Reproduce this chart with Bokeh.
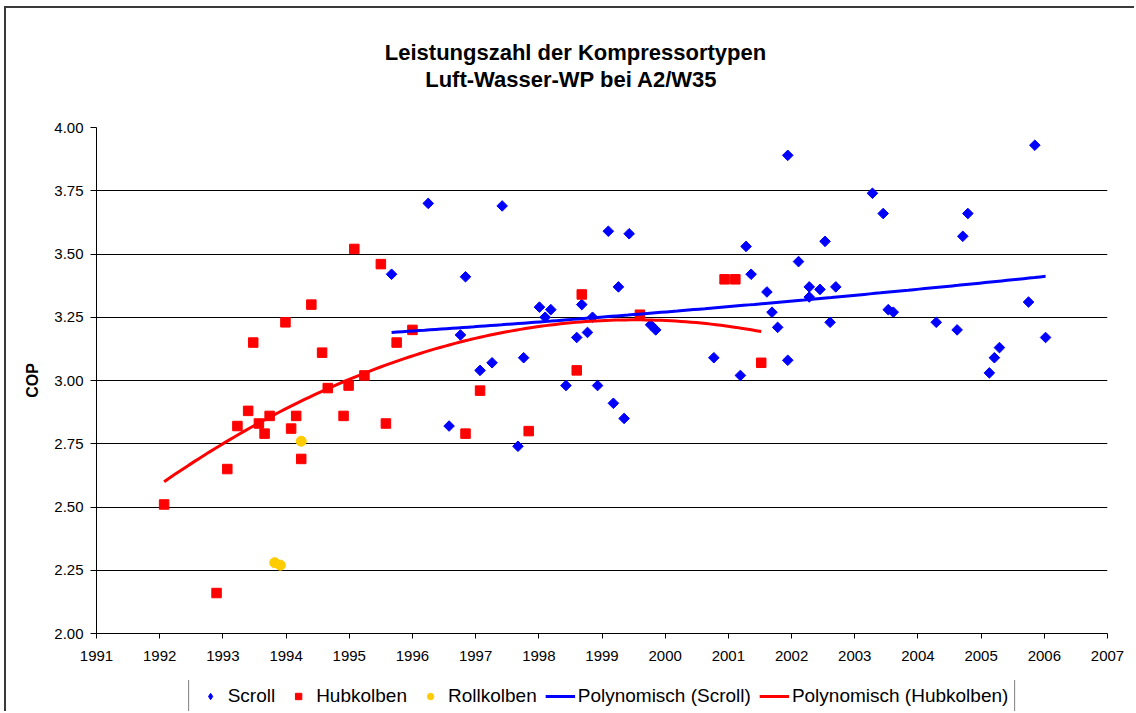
import numpy as np
from bokeh.plotting import figure
from bokeh.layouts import column
from bokeh.models import (Range1d, FixedTicker, NumeralTickFormatter, Legend, LegendItem, Label)
from bokeh.embed import file_html
from bokeh.resources import INLINE

# ---- data ----
scroll_year = [1995.67, 1996.25, 1996.58, 1996.76, 1996.84, 1997.07, 1997.26, 1997.42, 1997.67, 1997.76,
               1998.01, 1998.10, 1998.19, 1998.43, 1998.60, 1998.68, 1998.77, 1998.85, 1998.93, 1999.10,
               1999.18, 1999.26, 1999.35, 1999.43, 1999.77, 1999.85, 2000.77, 2001.19, 2001.28, 2001.36,
               2001.61, 2001.69, 2001.78, 2001.94, 2001.94, 2002.11, 2002.28, 2002.28, 2002.45, 2002.53,
               2002.61, 2002.70, 2003.28, 2003.45, 2003.53, 2003.61, 2004.29, 2004.62, 2004.71, 2004.79,
               2005.13, 2005.21, 2005.29, 2005.75, 2005.85, 2006.02]
scroll_cop = [3.42, 3.70, 2.82, 3.18, 3.41, 3.04, 3.07, 3.69, 2.74, 3.09,
              3.29, 3.25, 3.28, 2.98, 3.17, 3.30, 3.19, 3.25, 2.98, 3.59,
              2.91, 3.37, 2.85, 3.58, 3.22, 3.20, 3.09, 3.02, 3.53, 3.42,
              3.35, 3.27, 3.21, 3.08, 3.89, 3.47, 3.37, 3.33, 3.36, 3.55,
              3.23, 3.37, 3.74, 3.66, 3.28, 3.27, 3.23, 3.20, 3.57, 3.66,
              3.03, 3.09, 3.13, 3.31, 3.93, 3.17]

hub_year = [1992.07, 1992.90, 1993.07, 1993.23, 1993.40, 1993.48, 1993.57, 1993.66, 1993.74, 1993.99,
            1994.08, 1994.16, 1994.24, 1994.40, 1994.57, 1994.66, 1994.91, 1994.99, 1995.08, 1995.24,
            1995.50, 1995.58, 1995.75, 1996.00, 1996.84, 1997.07, 1997.84, 1998.60, 1998.68, 1999.60,
            2000.94, 2001.11, 2001.52]
hub_cop = [2.51, 2.16, 2.65, 2.82, 2.88, 3.15, 2.83, 2.79, 2.86, 3.23,
           2.81, 2.86, 2.69, 3.30, 3.11, 2.97, 2.86, 2.98, 3.52, 3.02,
           3.46, 2.83, 3.15, 3.20, 2.79, 2.96, 2.80, 3.04, 3.34, 3.26,
           3.40, 3.40, 3.07]

roll_year = [1993.82, 1993.91, 1994.24]
roll_cop = [2.28, 2.27, 2.76]

x_ticks = list(range(1991, 2008))
y_ticks = [2.00, 2.25, 2.50, 2.75, 3.00, 3.25, 3.50, 3.75, 4.00]

title_line1 = "Leistungszahl der Kompressortypen"
title_line2 = "Luft-Wasser-WP bei A2/W35"
y_label = "COP"
names = ["Scroll", "Hubkolben", "Rollkolben", "Polynomisch (Scroll)", "Polynomisch (Hubkolben)"]

# polynomial (order 2) trend lines, as in the spreadsheet
def trend(xs, ys):
    c = np.polyfit(xs, ys, 2)
    xx = np.linspace(min(xs), max(xs), 120)
    return xx, np.polyval(c, xx)

sx, sy = trend(scroll_year, scroll_cop)
hx, hy = trend(hub_year, hub_cop)

FONT = "Liberation Sans"
BLUE, RED, YELLOW = "#0000FF", "#FF0000", "#FFCC00"

# ---- title strip (its frame is aligned with the chart's frame by the column) ----
pt = figure(width=1128, height=100, output_backend="svg", toolbar_location=None,
            x_axis_location=None, y_axis_location=None,
            min_border_left=90, min_border_right=27, min_border_top=0, min_border_bottom=0)
pt.outline_line_color = None
pt.xgrid.visible = False
pt.ygrid.visible = False
for txt, xx, yy in ((title_line1, 479, 56), (title_line2, 475, 29.5)):
    pt.add_layout(Label(x=xx, y=yy, x_units="screen", y_units="screen", text=txt,
                        text_align="center", text_baseline="alphabetic", text_color="black",
                        text_font=FONT, text_font_style="bold", text_font_size="22px"))

# ---- main chart ----
p = figure(width=1128, height=572, output_backend="svg", toolbar_location=None,
           x_range=Range1d(1991, 2007), y_range=Range1d(2.0, 4.0),
           min_border_left=90, min_border_right=27, min_border_top=19, min_border_bottom=47)
p.outline_line_color = None
p.background_fill_color = "white"
p.border_fill_color = "white"

p.xgrid.visible = False
p.ygrid.ticker = FixedTicker(ticks=y_ticks)
p.ygrid.grid_line_color = "black"
p.ygrid.grid_line_width = 1

p.xaxis.ticker = FixedTicker(ticks=x_ticks)
p.yaxis.ticker = FixedTicker(ticks=y_ticks)
p.yaxis.formatter = NumeralTickFormatter(format="0.00")
for ax in (p.xaxis, p.yaxis):
    ax.axis_line_color = "black"
    ax.major_tick_line_color = "black"
    ax.minor_tick_line_color = None
    ax.major_tick_in = 0
    ax.major_label_text_font = FONT
    ax.major_label_text_font_size = "15px"
    ax.major_label_text_color = "black"
p.xaxis.major_tick_out = 5
p.xaxis.major_label_standoff = 12
p.yaxis.major_tick_out = 6
p.yaxis.major_label_standoff = 7
p.yaxis.axis_label = y_label
p.yaxis.axis_label_text_font = FONT
p.yaxis.axis_label_text_font_style = "bold"
p.yaxis.axis_label_text_font_size = "16px"
p.yaxis.axis_label_text_color = "black"
p.yaxis.axis_label_standoff = 10

p.scatter(scroll_year, scroll_cop, marker="square", angle=np.pi / 4, size=7.5,
          fill_color=BLUE, line_color=BLUE)
p.scatter(hub_year, hub_cop, marker="square", size=9.5, fill_color=RED, line_color=RED)
p.scatter(roll_year, roll_cop, marker="circle", size=10, fill_color=YELLOW, line_color=YELLOW)
p.line(sx, sy, line_color=BLUE, line_width=3)
p.line(hx, hy, line_color=RED, line_width=3)

# ---- legend strip: hidden copies of the series only supply the keys ----
pl = figure(width=1128, height=31, output_backend="svg", toolbar_location=None,
            x_axis_location=None, y_axis_location=None,
            x_range=Range1d(1991, 2007), y_range=Range1d(2.0, 4.0),
            min_border_left=90, min_border_right=27, min_border_top=0, min_border_bottom=0)
pl.outline_line_color = None
pl.xgrid.visible = False
pl.ygrid.visible = False
k1 = pl.scatter(scroll_year, scroll_cop, marker="diamond", size=11,
                fill_color=BLUE, line_color=BLUE, visible=False)
k2 = pl.scatter(hub_year, hub_cop, marker="square", size=9, fill_color=RED, line_color=RED,
                visible=False)
k3 = pl.scatter(roll_year, roll_cop, marker="circle", size=9, fill_color=YELLOW, line_color=YELLOW,
                visible=False)
k4 = pl.line(sx, sy, line_color=BLUE, line_width=3, visible=False)
k5 = pl.line(hx, hy, line_color=RED, line_width=3, visible=False)
legend = Legend(items=[LegendItem(label=n, renderers=[r]) for n, r in zip(names, [k1, k2, k3, k4, k5])],
                orientation="horizontal", location="center",
                label_text_font=FONT, label_text_font_size="19px", label_text_color="black",
                glyph_width=30, glyph_height=16, label_height=16,
                label_standoff=3, spacing=8, padding=6, margin=0,
                inactive_fill_alpha=0,
                border_line_color="black", border_line_width=1,
                background_fill_color="white", background_fill_alpha=1)
pl.add_layout(legend)

layout = column(pt, p, pl, spacing=0,
                styles={"margin-left": "4px", "margin-top": "6px",
                        "border-left": "2px solid #3a3a3a", "border-top": "2px solid #3a3a3a"})

open("out.html", "w").write(file_html(layout, INLINE))
